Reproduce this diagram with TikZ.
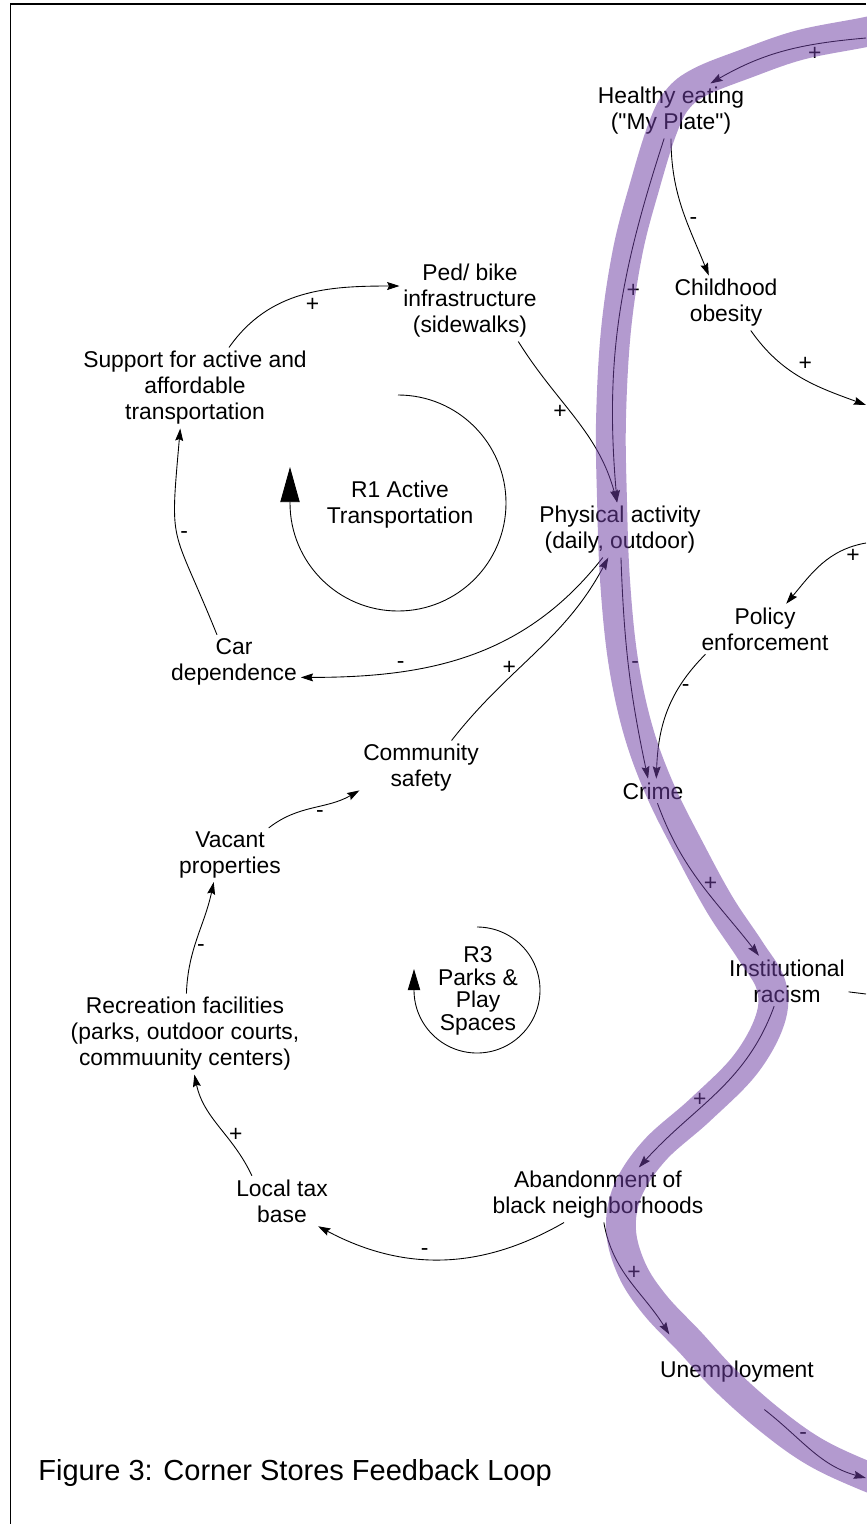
\documentclass[tikz,border=0pt]{standalone}
\usepackage{fontspec}
\setmainfont{Liberation Sans}
\usetikzlibrary{arrows.meta}

\definecolor{loopband}{RGB}{112,64,165}
% straight double quote, kept out of the tex-text mapping
\newcommand\strq{\XeTeXglyph\XeTeXcharglyph"22\relax}

\tikzset{
  var/.style={align=center, inner sep=2pt, font=\fontsize{13}{14.8}\selectfont},
  link/.style={draw, line width=0.5pt, -{Stealth[length=7pt,width=4.5pt,inset=1pt]}},
  sgn/.style={inner sep=1.5pt, font=\fontsize{13}{14}\selectfont},
  loopline/.style={draw, line width=0.5pt},
  band/.style={draw=loopband, line width=17pt, opacity=0.53}
}

\begin{document}
\begin{tikzpicture}[x=0.02cm, y=0.02cm]
  \useasboundingbox (0,0) rectangle (866,-1524);
  \draw[line width=1.1pt] (866,-4) -- (10.5,-4) -- (10.5,-1530);

  % variables
  \node[var] (heal) at (671,-111) {Healthy eating\\(\strq My Plate\strq)};
  \node[var] (obese) at (726,-303) {Childhood\\obesity};
  \node[var] (ped) at (470,-301) {Ped/ bike\\infrastructure\\(sidewalks)};
  \node[var] (supp) at (195,-388) {Support for active and\\affordable\\transportation};
  \node[var] (phys) at (620,-530) {Physical activity\\(daily, outdoor)};
  \node[var] (car) at (234,-662) {Car\\dependence};
  \node[var] (pol) at (765,-629) {Policy\\enforcement};
  \node[var] (comm) at (421,-768) {Community\\safety};
  \node[var] (crime) at (653,-791) {Crime};
  \node[var] (vac) at (230,-855) {Vacant\\properties};
  \node[var] (inst) at (787,-981) {Institutional\\racism};
  \node[var] (rec) at (185,-1034) {Recreation facilities\\(parks, outdoor courts,\\commuunity centers)};
  \node[var] (tax) at (282,-1201) {Local tax\\base};
  \node[var] (aban) at (598,-1195) {Abandonment of\\black neighborhoods};
  \node[var] (unemp) at (737,-1372) {Unemployment};

  % loop names
  \node[var] (r1) at (400,-505) {R1 Active\\Transportation};
  \node[var, font=\fontsize{13}{12.9}\selectfont] (r3) at (478,-991) {R3\\Parks \&\\Play\\Spaces};
  \node[anchor=west, inner sep=0pt, font=\fontsize{16.5}{18}\selectfont] (cap) at (38,-1473)
    {Figure 3: Corner Stores Feedback Loop};

  % loose ends at the right border
  \coordinate (etop) at (866,-38);
  \coordinate (eobese) at (866,-405);
  \coordinate (epol) at (866,-543);
  \coordinate (einst) at (866,-994);
  \coordinate (eunemp) at (866,-1478);

  % R1 loop
  \draw[link] (etop) to[out=185,in=30] node[sgn,pos=.3,below]{+} (heal.35);
  \draw[link] (heal.-90) to[out=-90,in=112] node[sgn,pos=.6,right]{-} (obese.122);
  \draw[link] (heal.-104) to[out=-108,in=95] node[sgn,pos=.42,right]{+} (phys.96);
  \draw[link] (ped.-40) to[out=-58,in=105] node[sgn,pos=.45,left]{+} (phys.96);
  \draw[link] (supp.50) to[out=55,in=180] node[sgn,pos=.5,below right]{+} (ped.168);
  \draw[link] (car.122) to[out=112,in=-95,looseness=1.5] node[sgn,pos=.5,right]{-} (supp.-110);
  \draw[link] (phys.-122) to[out=-128,in=0] node[sgn,pos=.72,above]{-} (car.-13);
  \draw[link] (obese.-48) to[out=-55,in=160] node[sgn,pos=.45,above right]{+} (eobese);

  % crime and safety
  \draw[link] (comm.42) to[out=52,in=-118] node[sgn,pos=.4,left]{+} (phys.-113);
  \draw[link] (phys.-88) to[out=-88,in=102] node[sgn,pos=.48,right]{-} (crime.112);
  \draw[link] (epol) to[out=190,in=50] node[sgn,pos=.12,below]{+} (pol.50);
  \draw[link] (pol.-157) to[out=-135,in=88] node[sgn,pos=.3,right]{-} (crime.75);
  \draw[link] (crime.-70) to[out=-70,in=128] node[sgn,pos=.5,right]{+} (inst.138);
  \draw[line width=0.5pt] (inst.-10) -- (einst);
  \draw[link] (inst.-117) to[out=-110,in=48] node[sgn,pos=.55,left]{+} (aban.34);

  % R3 loop
  \draw[link] (aban.-141) to[out=-150,in=-28] node[sgn,pos=.57,above]{-} (tax.-35);
  \draw[link] (tax.140) to[out=115,in=-78] node[sgn,pos=.4,right]{+} (rec.-77);
  \draw[link] (rec.88) to[out=88,in=-102] node[sgn,pos=.4,right]{-} (vac.-121);
  \draw[link] (vac.35) to[out=38,in=-150] node[sgn,pos=.5,below right]{-} (comm.-160);
  \draw[link] (aban.-78) to[out=-80,in=122] node[sgn,pos=.42,right]{+} ([shift={(13,23)}]unemp.north west);
  \draw[link] ([shift={(0,-23)}]unemp.-28) to[out=-38,in=165] node[sgn,pos=.4,above]{-} (eunemp);

  % loop markers
  \draw[loopline, -{Triangle[length=20pt,width=11pt]}]
    ([shift={(-2,110)}]r1.center) arc[start angle=90, end angle=-180, radius=108] -- ++(0,36);
  \draw[loopline, -{Triangle[length=12pt,width=7pt]}]
    ([shift={(-1,64)}]r3.center) arc[start angle=90, end angle=-180, radius=63] -- ++(0,21);

  % highlighted loop
  \draw[band] plot[smooth, tension=0.6] coordinates {
    (910,-22) (866,-32) (800,-45) (745,-64) (700,-82) (677,-100) (662,-130)
    (645,-185) (628,-250) (616,-330) (611,-420) (612,-500) (615,-580)
    (623,-660) (638,-730) (660,-790) (690,-850) (720,-905) (750,-950)
    (771,-985) (770,-1020) (745,-1065) (700,-1110) (655,-1150) (628,-1190)
    (621,-1230) (632,-1270) (655,-1305) (690,-1342) (725,-1380) (770,-1420)
    (815,-1452) (866,-1476) (910,-1492)};
\end{tikzpicture}
\end{document}
